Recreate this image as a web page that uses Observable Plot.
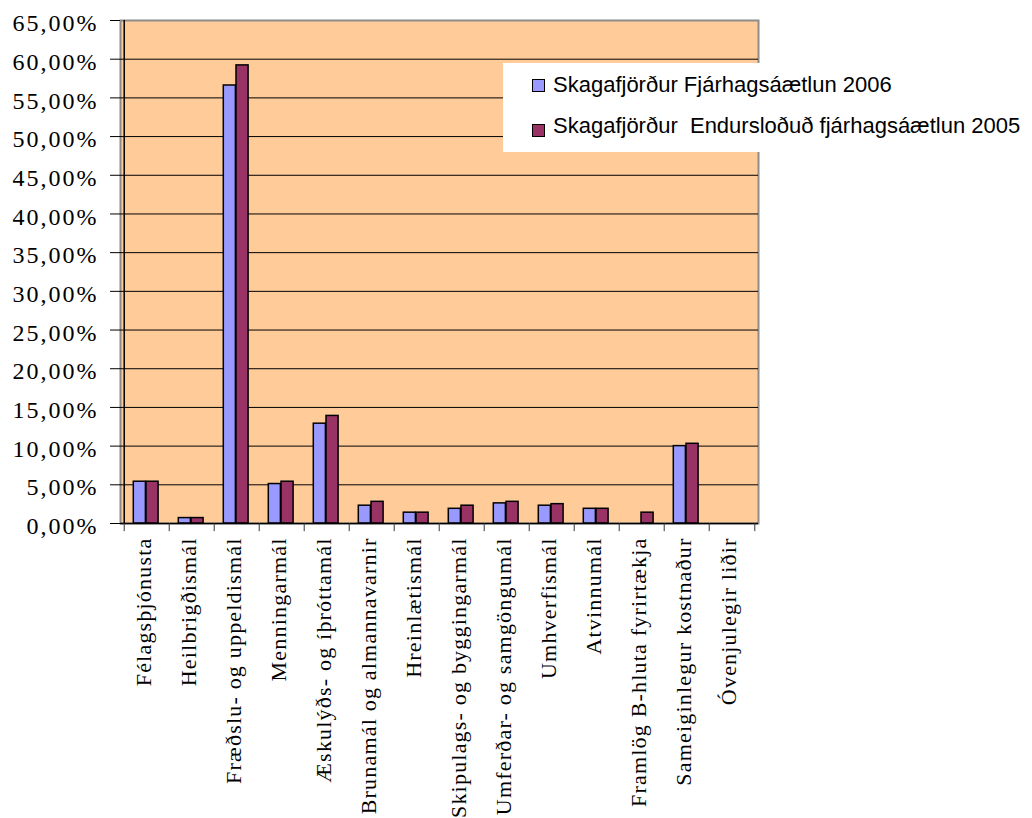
<!DOCTYPE html>
<html><head><meta charset="utf-8">
<script src="https://cdn.jsdelivr.net/npm/d3@7"></script>
<script src="https://cdn.jsdelivr.net/npm/@observablehq/plot@0.6"></script>
<style>
body{margin:0;background:#fff;}
#wrap{position:relative;width:1032px;height:818px;overflow:hidden;}
#legend{position:absolute;left:503px;top:63px;width:529px;height:89px;background:#fff;font-family:"Liberation Sans",Arial,sans-serif;font-size:22px;color:#000;}
.sw{position:absolute;width:11px;height:11px;border:1.5px solid #000;}
.lt{position:absolute;line-height:22px;white-space:pre;}
</style></head>
<body><div id="wrap"><div id="chart"></div><div id="legend"></div></div>
<script>
const categories = ["Félagsþjónusta","Heilbrigðismál","Fræðslu- og uppeldismál","Menningarmál","Æskulýðs- og íþróttamál","Brunamál og almannavarnir","Hreinlætismál","Skipulags- og byggingarmál","Umferðar- og samgöngumál","Umhverfismál","Atvinnumál","Framlög B-hluta fyrirtækja","Sameiginlegur kostnaður","Óvenjulegir liðir"];
const seriesNames = ["Skagafjörður Fjárhagsáætlun 2006","Skagafjörður  Endursloðuð fjárhagsáætlun 2005"];
const values2006 = [5.4, 0.7, 56.6, 5.1, 12.9, 2.3, 1.4, 1.9, 2.6, 2.3, 1.9, 0, 10.0, 0];
const values2005 = [5.4, 0.7, 59.2, 5.4, 13.9, 2.8, 1.4, 2.3, 2.8, 2.5, 1.9, 1.4, 10.3, 0];
const yTicks = [0, 5, 10, 15, 20, 25, 30, 35, 40, 45, 50, 55, 60, 65];
const colors = ["#9999FF", "#993366"];

const W = 1032, H = 818, ML = 120, MR = 274, MT = 20, MB = 295;
const bw = (W - ML - MR) / categories.length;

const d2006 = categories.map((c, i) => ({category: c, value: values2006[i]}));
const d2005 = categories.map((c, i) => ({category: c, value: values2005[i]}));
const serif = "'Liberation Serif', 'Times New Roman', serif";

const chart = Plot.plot({
  width: W, height: H,
  marginLeft: ML, marginRight: MR, marginTop: MT, marginBottom: MB,
  x: {domain: categories, padding: 0, axis: null, label: null},
  y: {domain: [0, 65], axis: null, label: null},
  marks: [
    Plot.frame({fill: "#FFCC99", stroke: "#8c8c8c", strokeWidth: 2}),
    Plot.ruleY(yTicks.slice(1, -1), {stroke: "#000", strokeWidth: 1}),
    Plot.barY(d2006, {filter: d => d.value > 0, x: "category", y: "value", fill: colors[0], stroke: "#000", strokeWidth: 1.5, insetLeft: 9.3, insetRight: 23.6}),
    Plot.barY(d2005, {filter: d => d.value > 0, x: "category", y: "value", fill: colors[1], stroke: "#000", strokeWidth: 1.5, insetLeft: 22, insetRight: 10.9}),
    Plot.ruleY([0], {stroke: "#000", strokeWidth: 1.5}),
    Plot.ruleX([categories[0]], {y1: 0, y2: 65, dx: -bw / 2, stroke: "#000", strokeWidth: 1.5}),
    Plot.ruleX(categories, {y1: 0, y2: -1.05, dx: -bw / 2, stroke: "#333", strokeWidth: 1}),
    Plot.ruleX([categories[categories.length - 1]], {y1: 0, y2: -1.05, dx: bw / 2, stroke: "#333", strokeWidth: 1}),
    Plot.axisY({ticks: yTicks, tickSize: 10, tickFormat: () => "", label: null, stroke: "#000"}),
    Plot.axisY({ticks: yTicks, tickSize: 0, tickPadding: 22, dy: 3, label: null, tickFormat: d => d.toFixed(2).replace(".", ",") + "%", fontSize: 24, fontFamily: serif}),
    Plot.axisX({tickSize: 0, tickRotate: -90, tickPadding: 14, dx: -3, label: null, fontSize: 22, fontFamily: serif})
  ]
});
chart.style.color = "#000";
d3.select(chart).selectAll("[aria-label='y-axis tick label'] text").style("letter-spacing", "2px");
d3.select(chart).selectAll("[aria-label='x-axis tick label'] text").style("letter-spacing", "1.2px");
document.getElementById("chart").appendChild(chart);

const legend = d3.select("#legend");
seriesNames.forEach((s, i) => {
  legend.append("div").attr("class", "sw").style("left", "29px").style("top", (16 + i * 45) + "px").style("background", colors[i]);
  legend.append("div").attr("class", "lt").style("left", "50px").style("top", (11 + i * 41) + "px").text(s);
});
</script></body></html>
